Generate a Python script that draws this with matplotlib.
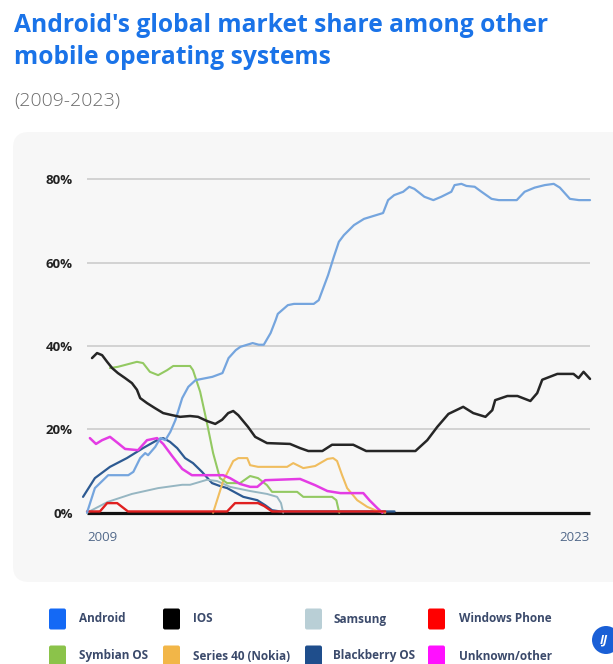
import matplotlib
matplotlib.use('Agg')
import matplotlib.pyplot as plt
from matplotlib.patches import FancyBboxPatch, Circle
from matplotlib.transforms import IdentityTransform
import numpy as np

plt.rcParams['font.family'] = ['Open Sans', 'DejaVu Sans']

# market share (%), x = years since 2009
android_x = [0, 0.22, 0.59, 1.15, 1.29, 1.48, 1.62, 1.70, 1.90, 2.04, 2.18, 2.32, 2.46, 2.65, 2.82, 3.02,
             3.49, 3.77, 3.94, 4.14, 4.27, 4.61, 4.78, 4.92, 5.11, 5.25, 5.31, 5.59, 5.76, 6.31, 6.45, 6.71,
             6.87, 7.01, 7.15, 7.43, 7.71, 8.05, 8.24, 8.38, 8.55, 8.80, 8.97, 9.11, 9.39, 9.64, 9.86, 10.14,
             10.23, 10.42, 10.56, 10.79, 10.98, 11.26, 11.46, 11.96, 12.18, 12.46, 12.74, 12.99, 13.16, 13.44,
             13.69, 14.0]
android_y = [0, 5.9, 9.0, 9.0, 9.8, 13.1, 14.3, 13.8, 15.8, 17.9, 17.4, 19.4, 22.2, 27.5, 30.2, 31.8,
             32.6, 33.5, 37.1, 39.0, 39.8, 40.7, 40.3, 40.3, 43.1, 46.2, 47.7, 49.8, 50.1, 50.1, 51.0, 57.0,
             61.4, 65.0, 66.6, 69.0, 70.5, 71.4, 71.9, 75.0, 76.2, 77.0, 78.2, 77.7, 75.8, 75.0, 75.8, 77.0,
             78.6, 78.9, 78.4, 78.2, 77.0, 75.3, 75.0, 75.0, 77.0, 78.0, 78.6, 78.9, 78.0, 75.3,
             75.0, 75.0]

ios_x = [0.14, 0.28, 0.42, 0.56, 0.70, 0.86, 1.06, 1.25, 1.39, 1.48, 1.67, 1.89, 2.12, 2.37, 2.59, 2.87,
         3.09, 3.34, 3.57, 3.76, 3.93, 4.07, 4.21, 4.48, 4.68, 5.01, 5.65, 5.93, 6.16, 6.55, 6.82, 7.41,
         7.77, 9.14, 9.47, 9.75, 10.06, 10.47, 10.75, 11.09, 11.28, 11.36, 11.70, 11.98, 12.34, 12.53,
         12.67, 13.09, 13.54, 13.68, 13.82, 14.0]
ios_y = [37.1, 38.3, 37.8, 36.2, 34.7, 33.5, 32.3, 31.1, 29.5, 27.5, 26.3, 25.1, 23.9, 23.4, 23.0, 23.2,
         23.0, 22.0, 21.3, 22.3, 23.9, 24.4, 23.4, 20.6, 18.2, 16.7, 16.5, 15.5, 14.8, 14.8, 16.3, 16.3,
         14.8, 14.8, 17.4, 20.6, 23.7, 25.4, 23.9, 23.0, 24.6, 27.0, 28.0, 28.0, 26.8, 28.7,
         31.9, 33.3, 33.3, 32.3, 33.8, 32.1]

symbian_x = [0.64, 0.86, 1.39, 1.56, 1.75, 1.98, 2.23, 2.40, 2.87, 2.95, 3.15, 3.34, 3.51, 3.70, 3.90,
             4.26, 4.54, 4.76, 5.01, 5.15, 5.85, 6.02, 6.82, 6.94, 7.02]
symbian_y = [34.7, 35.0, 36.2, 35.9, 33.8, 33.0, 34.2, 35.2, 35.2, 34.2, 29.0, 21.5, 14.3, 8.3, 7.1,
             7.1, 8.8, 8.3, 6.6, 5.0, 5.0, 3.8, 3.8, 3.0, 0]

s40_x = [3.51, 3.79, 4.07, 4.21, 4.46, 4.54, 4.76, 5.57, 5.74, 6.02, 6.35, 6.69, 6.85, 6.96, 7.10,
         7.24, 7.52, 7.80, 8.08, 8.30]
s40_y = [0, 7.6, 12.4, 13.1, 13.1, 11.4, 11.0, 11.0, 11.9, 10.7, 11.2, 12.9, 13.1, 12.4, 9.0,
         5.9, 3.0, 1.4, 0.4, 0]

samsung_x = [0, 0.58, 1.25, 1.98, 2.65, 2.87, 3.34, 3.62, 3.98, 4.54, 5.01, 5.29, 5.40, 5.46]
samsung_y = [0, 2.6, 4.5, 5.9, 6.7, 6.7, 7.9, 7.6, 6.2, 5.2, 4.5, 3.8, 2.3, 0]

bb_x = [-0.11, 0.22, 0.64, 1.11, 1.56, 1.95, 2.12, 2.31, 2.51, 2.73, 2.95, 3.20, 3.48, 3.70, 3.90,
        4.35, 4.74, 4.96, 5.15, 5.38, 8.56]
bb_y = [3.8, 8.3, 11.0, 13.1, 15.5, 17.4, 17.9, 17.0, 15.5, 13.1, 11.9, 9.8, 7.1, 6.4, 5.9,
        3.8, 3.0, 1.8, 0.6, 0.3, 0.3]

other_x = [0.08, 0.25, 0.42, 0.64, 0.86, 1.06, 1.42, 1.67, 1.95, 2.12, 2.37, 2.65, 2.92, 3.79, 3.98,
           4.26, 4.54, 4.74, 4.96, 5.93, 6.35, 6.69, 7.05, 7.69, 7.86, 8.08, 8.22]
other_y = [17.9, 16.5, 17.4, 18.2, 16.7, 15.3, 15.0, 17.4, 17.9, 16.5, 13.6, 10.5, 9.0, 9.0, 8.3,
           6.9, 6.2, 6.2, 7.8, 8.1, 6.6, 5.2, 4.7, 4.7, 3.0, 1.1, 0]

winph_x = [0, 0.36, 0.56, 0.84, 1.14, 3.90, 4.12, 4.76, 4.93, 5.15, 8.30]
winph_y = [0.3, 0.3, 2.3, 2.3, 0.3, 0.3, 2.3, 2.3, 1.6, 0.3, 0.3]

start_year = 2009
end_year = 2023
yticks = [0, 20, 40, 60, 80]

legend_names = ['Android', 'IOS', 'Samsung', 'Windows Phone',
                'Symbian OS', 'Series 40 (Nokia)', 'Blackberry OS', 'Unknown/other']
legend_cols = ['#1469f5', '#000000', '#b9cfd6', '#ff0000',
               '#8bc34a', '#f2b648', '#1f4e8c', '#ff10ff']

W, H = 613, 664
fig = plt.figure(figsize=(W / 100, H / 100), dpi=100)
fig.patch.set_facecolor('white')
px = IdentityTransform()

# title + subtitle
fig.text(14 / W, 1 - 25 / H, "Android's global market share among other", fontsize=17.7,
         fontweight='bold', color='#1a73e8', va='center')
fig.text(14 / W, 1 - 58 / H, "mobile operating systems", fontsize=17.7,
         fontweight='bold', color='#1a73e8', va='center')
fig.text(14 / W, 1 - 101 / H, "(2009-2023)", fontsize=14, color='#6b6b6b', va='center',
         fontweight='light')

# grey panel behind the chart
panel = FancyBboxPatch((13, H - 582), 700, 450, boxstyle='round,pad=0,rounding_size=16',
                       transform=px, facecolor='#f7f7f7', edgecolor='none', zorder=0)
fig.add_artist(panel)

# axes placed so that x=0 -> 87px, x=14 -> 590px, y=0 -> 512.7px, y=80 -> 179.3px
ax = fig.add_axes([79.81 / W, (H - 518.95) / H, 517.4 / W, 356.35 / H])
ax.set_xlim(-0.2, 14.2)
ax.set_ylim(-1.5, 84)
ax.patch.set_alpha(0)
for s in ax.spines.values():
    s.set_visible(False)
ax.set_xticks([])
ax.set_yticks(yticks)
ax.set_yticklabels([f'{v}%' for v in yticks], fontsize=9.5, fontweight='bold', color='#222222')
ax.tick_params(axis='y', length=0, pad=5)

for v in yticks[1:]:
    ax.hlines(v, 0, end_year - start_year, color='#c9c9c9', lw=1.1, zorder=1)
ax.hlines(0, 0, end_year - start_year, color='#111111', lw=2.3, zorder=2)

series = [
    (bb_x, bb_y, '#2d5a92', 1.6),
    (samsung_x, samsung_y, '#96b6c2', 1.4),
    (s40_x, s40_y, '#f0bd5e', 1.5),
    (symbian_x, symbian_y, '#93c962', 1.5),
    (other_x, other_y, '#e43ce4', 1.8),
    (winph_x, winph_y, '#e02020', 1.7),
    (android_x, android_y, '#75a5de', 1.6),
    (ios_x, ios_y, '#262626', 1.8),
]
for x, y, c, lw in series:
    ax.plot(x, y, color=c, lw=lw, solid_joinstyle='round', solid_capstyle='round', zorder=3)

ax.text(0, -6, str(start_year), ha='left', va='center', fontsize=9.5, color='#52698a')
ax.text(end_year - start_year, -6, str(end_year), ha='right', va='center', fontsize=9.5,
        color='#52698a')

# legend drawn by hand
sq_x = [49, 163, 305, 428]
lbl_x = [79, 193, 333, 459]
rows = [619, 656]
for i, (name, col) in enumerate(zip(legend_names, legend_cols)):
    r, c = divmod(i, 4)
    yc = H - rows[r]
    sq = FancyBboxPatch((sq_x[c], yc - 10.5), 17, 21, boxstyle='round,pad=0,rounding_size=2',
                        transform=px, facecolor=col, edgecolor='none')
    fig.add_artist(sq)
    fig.text(lbl_x[c] / W, yc / H, name, fontsize=8.5, fontweight='bold', color='#3b4a6b',
             va='center')

# logo in the corner
fig.add_artist(Circle((606, H - 640), 14, transform=px, facecolor='#1a5fd6', edgecolor='none'))
fig.text(604 / W, (H - 640) / H, 'IJ', fontsize=9, fontweight='bold', style='italic',
         color='white', ha='center', va='center')

fig.savefig('out.png', dpi=100)
